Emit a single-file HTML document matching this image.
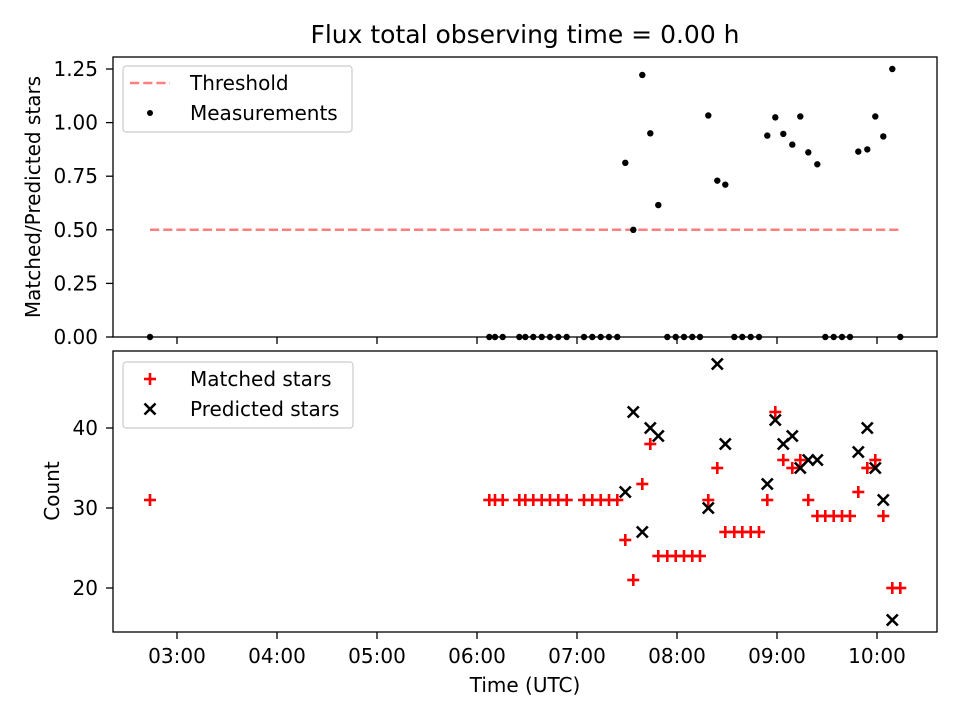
<!DOCTYPE html>
<html><head><meta charset="utf-8"><style>
body{margin:0;background:#fff}
svg{font-family:"DejaVu Sans","Liberation Sans",sans-serif}
</style></head><body>
<svg id="c" width="960" height="720" xmlns="http://www.w3.org/2000/svg"></svg>
<script>
const times=[2.73,6.123,6.18,6.257,6.423,6.483,6.563,6.647,6.73,6.813,6.897,7.07,7.153,7.237,7.32,7.403,7.483,7.563,7.653,7.733,7.813,7.903,7.987,8.07,8.153,8.23,8.313,8.403,8.483,8.573,8.653,8.737,8.82,8.903,8.983,9.063,9.153,9.233,9.313,9.403,9.483,9.567,9.65,9.73,9.813,9.903,9.983,10.063,10.153,10.233];
const matched=[31,31,31,31,31,31,31,31,31,31,31,31,31,31,31,31,26,21,33,38,24,24,24,24,24,24,31,35,27,27,27,27,27,31,42,36,35,36,31,29,29,29,29,29,32,35,36,29,20,20];
const predicted=[null,null,null,null,null,null,null,null,null,null,null,null,null,null,null,null,32,42,27,40,39,null,null,null,null,null,30,48,38,null,null,null,null,33,41,38,39,35,36,36,null,null,null,null,37,40,35,31,16,null];
const threshold=0.5;
const xTicks=[3,4,5,6,7,8,9,10];
const xTickLabels=["03:00","04:00","05:00","06:00","07:00","08:00","09:00","10:00"];
const topTicks=[0,0.25,0.5,0.75,1.0,1.25];
const botTicks=[20,30,40];

const svg=document.getElementById('c');
const NS='http://www.w3.org/2000/svg';
function mk(t,a,p){const e=document.createElementNS(NS,t);for(const k in a)e.setAttribute(k,a[k]);(p||svg).appendChild(e);return e;}
const L=113,R=937;
const FS=20;
const X=h=>L+(h-2.36)/(10.6-2.36)*(R-L);
const T1=57,B1=337,T2=351,B2=632;
const Y1=v=>B1-(v-0)/(1.306-0)*(B1-T1);
const Y2=v=>B2-(v-14.5)/(49.625-14.5)*(B2-T2);

let t=mk('text',{x:525,y:43,'font-size':25,'text-anchor':'middle'});t.textContent='Flux total observing time = 0.00 h';



function axes(top,bot,Y,ticks,fmt,name,showX){
  const g=mk('g',{});
  
  
  ticks.forEach(v=>{const y=Y(v);mk('line',{x1:L-7,x2:L,y1:y,y2:y,stroke:'#000','stroke-width':1.3},g);
    const tx=mk('text',{x:98,y:y+7,'font-size':FS,'text-anchor':'end'},g);tx.textContent=fmt(v);
    
    });
  xTicks.forEach((h,i)=>{const x=X(h);mk('line',{x1:x,x2:x,y1:bot,y2:bot+7,stroke:'#000','stroke-width':1.3},g);
    if(showX){const tx=mk('text',{x:x,y:663,'font-size':FS,'text-anchor':'middle'},g);tx.textContent=xTickLabels[i];
      
      }});
  return g;
}
const g1=axes(T1,B1,Y1,topTicks,v=>v.toFixed(2),'top-axes',false);
const g2=axes(T2,B2,Y2,botTicks,v=>String(v),'bottom-axes',true);

const th=mk('line',{x1:X(times[0]),x2:X(times[times.length-1]),y1:Y1(threshold),y2:Y1(threshold),stroke:'#ff0000','stroke-opacity':0.5,'stroke-width':2.5,'stroke-dasharray':'9.2,4'});


times.forEach((h,i)=>{const r=predicted[i]?matched[i]/predicted[i]:0;
  const c=mk('circle',{cx:X(h),cy:Y1(r),r:3.2,fill:'#000'});
  
  });
function plus(x,y,col){const g=mk('g',{stroke:col,'stroke-width':2.6});mk('line',{x1:x-6,x2:x+6,y1:y,y2:y},g);mk('line',{x1:x,x2:x,y1:y-6,y2:y+6},g);return g;}
function cross(x,y,col){const g=mk('g',{stroke:col,'stroke-width':2.6});mk('line',{x1:x-5.5,x2:x+5.5,y1:y-5.5,y2:y+5.5},g);mk('line',{x1:x-5.5,x2:x+5.5,y1:y+5.5,y2:y-5.5},g);return g;}
times.forEach((h,i)=>{const p=plus(X(h),Y2(matched[i]),'#ff0000');
  
  });
times.forEach((h,i)=>{if(predicted[i]==null)return;const p=cross(X(h),Y2(predicted[i]),'#000');
  
  });

mk('rect',{x:L,y:T1,width:R-L,height:B1-T1,fill:'none',stroke:'#000','stroke-width':1.3});
mk('rect',{x:L,y:T2,width:R-L,height:B2-T2,fill:'none',stroke:'#000','stroke-width':1.3});

let yl=mk('text',{x:0,y:0,'font-size':FS,'text-anchor':'middle',transform:'translate(40,197) rotate(-90)'});yl.textContent='Matched/Predicted stars';


let yl2=mk('text',{x:0,y:0,'font-size':FS,'text-anchor':'middle',transform:'translate(59,491) rotate(-90)'});yl2.textContent='Count';


let xl=mk('text',{x:525,y:692,'font-size':FS,'text-anchor':'middle'});xl.textContent='Time (UTC)';



function legend(x,y,w,items,name){const g=mk('g',{});
  
  
  mk('rect',{x:x,y:y,width:w,height:66,rx:3,fill:'#fff','fill-opacity':0.8,stroke:'#ccc','stroke-width':1.2},g);
  items.forEach((it,i)=>{const cy=y+17+i*30;it.draw(x+27,cy,g);
    const tx=mk('text',{x:x+67,y:cy+7,'font-size':FS},g);tx.textContent=it.label;
    
    });}
legend(123,66,229,[{label:'Threshold',draw:(x,y,g)=>mk('line',{x1:x-20,x2:x+20,y1:y,y2:y,stroke:'#ff0000','stroke-opacity':0.5,'stroke-width':2.5,'stroke-dasharray':'9.2,4'},g)},
  {label:'Measurements',draw:(x,y,g)=>mk('circle',{cx:x,cy:y,r:3,fill:'#000'},g)}],'top-legend');
legend(123,362,230,[{label:'Matched stars',draw:(x,y,g)=>g.appendChild(plus(x,y,'#ff0000'))},
  {label:'Predicted stars',draw:(x,y,g)=>g.appendChild(cross(x,y,'#000'))}],'bottom-legend');
</script>
</body></html>
